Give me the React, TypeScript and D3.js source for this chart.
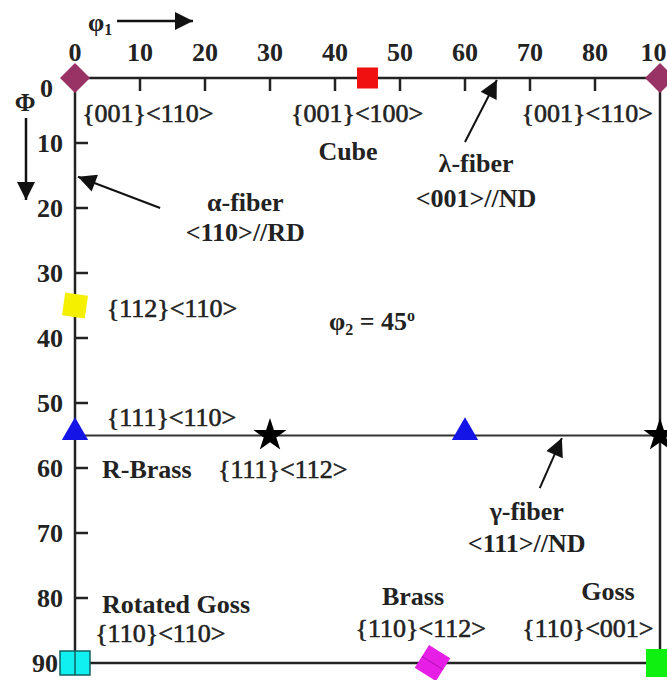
import { useEffect, useRef } from 'react'
import * as d3 from 'd3'

// Euler angle section, phi2 = 45 deg
const xTicks = [0, 10, 20, 30, 40, 50, 60, 70, 80, 90]
const xTickLabels = ['0', '10', '20', '30', '40', '50', '60', '70', '80', '100']
const yTicks = [0, 10, 20, 30, 40, 50, 60, 70, 80, 90]
const yTickLabels = ['0', '10', '20', '30', '40', '50', '60', '70', '80', '90']

// texture components: [phi1, Phi]
const compNames = ['Rot-Cube', 'Cube', 'Rot-Cube 2', '{112}<110>', 'R-Brass 1', '{111}<112> 1', 'R-Brass 2', '{111}<112> 2', 'Rotated Goss', 'Brass', 'Goss']
const compPhi1 = [0, 45, 90, 0, 0, 30, 60, 90, 0, 55, 90]
const compPhi = [0, 0, 0, 35, 55, 55, 55, 55, 90, 90, 90]
const compShape = ['diamond', 'square', 'diamond', 'square', 'triangle', 'star', 'triangle', 'star', 'wide', 'tilted', 'square']
const compColor = ['#993366', '#f01010', '#993366', '#f5f000', '#1414e6', '#000000', '#1414e6', '#000000', '#10f0f0', '#e61ee6', '#10f010']

// annotation text, placed in (phi1, Phi) units
const labelText = ['{001}<110>', '{001}<100>', 'Cube', '{001}<110>', 'λ-fiber', '<001>//ND', 'α-fiber', '<110>//RD',
  '{112}<110>', '{111}<110>', 'R-Brass', '{111}<112>', 'γ-fiber', '<111>//ND', 'Rotated Goss', '{110}<110>',
  'Brass', '{110}<112>', 'Goss', '{110}<001>']
const labelU = [1.1, 43.4, 42, 78.8, 61.7, 61.7, 26.2, 26.2, 4.9, 4.9, 4.15, 22, 69.5, 69.5, 4.15, 3.1, 52, 53.2, 82, 78.9]
const labelV = [6.8, 6.8, 12.6, 6.8, 14.5, 19.8, 20.5, 25.1, 36.8, 53.5, 61.5, 61.5, 68, 72.9, 82.3, 86.8, 81, 86, 80.3, 86]
const labelAnchor = ['start', 'middle', 'middle', 'middle', 'middle', 'middle', 'middle', 'middle', 'start', 'start', 'start', 'start',
  'middle', 'middle', 'start', 'start', 'middle', 'middle', 'middle', 'middle']
const labelBold = [false, false, true, false, true, true, true, true, false, false, true, false, true, true, true, false, true, false, true, false]

// fiber arrows: tail -> tip
const arrowFrom = [[13.1, 20], [60, 9.85], [71.5, 63.1]]
const arrowTo = [[0.46, 15.2], [64.9, 0.3], [74.9, 55.4]]

export default function App() {
  const ref = useRef<SVGSVGElement>(null)

  useEffect(() => {
    const svg = d3.select(ref.current)
    svg.selectAll('*').remove()

    const x = d3.scaleLinear().domain([0, 90]).range([75, 660])
    const y = d3.scaleLinear().domain([0, 90]).range([78, 663])
    const font = '"Liberation Serif", "Times New Roman", serif'
    const ink = '#222'

    svg.append('defs').append('marker')
      .attr('id', 'head')
      .attr('viewBox', '0 0 10 10')
      .attr('refX', 10).attr('refY', 5)
      .attr('markerWidth', 22).attr('markerHeight', 18)
      .attr('markerUnits', 'userSpaceOnUse')
      .attr('orient', 'auto')
      .append('path').attr('d', 'M0,0 L10,5 L0,10 z').attr('fill', '#111')

    const g = svg.append('g')

    // frame
    g.append('rect')
      .attr('x', x(0)).attr('y', y(0))
      .attr('width', x(90) - x(0)).attr('height', y(90) - y(0))
      .attr('fill', 'none').attr('stroke', ink).attr('stroke-width', 2.5)

    // gamma fiber line at Phi = 55
    g.append('line')
      .attr('x1', x(0)).attr('x2', x(90))
      .attr('y1', y(55)).attr('y2', y(55))
      .attr('stroke', '#333').attr('stroke-width', 2)

    // inner ticks
    g.selectAll('.xt').data(xTicks.slice(1, -1)).enter().append('line')
      .attr('x1', d => x(d)).attr('x2', d => x(d))
      .attr('y1', y(0)).attr('y2', y(0) + 13)
      .attr('stroke', ink).attr('stroke-width', 2.5)
    g.selectAll('.yt').data(yTicks.slice(1, -1)).enter().append('line')
      .attr('y1', d => y(d)).attr('y2', d => y(d))
      .attr('x1', x(0)).attr('x2', x(0) + 13)
      .attr('stroke', ink).attr('stroke-width', 2.5)

    // tick labels
    g.selectAll('.xl').data(xTicks).enter().append('text')
      .attr('x', d => x(d)).attr('y', 61)
      .attr('text-anchor', 'middle')
      .attr('font-family', font).attr('font-weight', 'bold').attr('font-size', 26)
      .attr('fill', ink)
      .text((d, i) => xTickLabels[i])
    g.selectAll('.yl').data(yTicks).enter().append('text')
      .attr('x', (d, i) => (i === 0 ? 53 : i === yTicks.length - 1 ? 58 : 63))
      .attr('y', (d, i) => y(d) + (i === 0 ? 19 : 9))
      .attr('text-anchor', 'end')
      .attr('font-family', font).attr('font-weight', 'bold').attr('font-size', 26)
      .attr('fill', ink)
      .text((d, i) => yTickLabels[i])

    // axis names with direction arrows
    const p1 = g.append('text').attr('x', 88).attr('y', 31)
      .attr('font-family', font).attr('font-weight', 'bold').attr('font-size', 26).attr('fill', ink)
    p1.append('tspan').text('φ')
    p1.append('tspan').attr('font-size', 16).attr('dy', 4).text('1')
    g.append('line').attr('x1', 117).attr('y1', 21).attr('x2', 193).attr('y2', 21)
      .attr('stroke', '#111').attr('stroke-width', 2.5).attr('marker-end', 'url(#head)')
    g.append('text').attr('x', 25).attr('y', 111).attr('text-anchor', 'middle')
      .attr('font-family', font).attr('font-weight', 'bold').attr('font-size', 25).attr('fill', ink)
      .text('Φ')
    g.append('line').attr('x1', 26).attr('y1', 118).attr('x2', 26).attr('y2', 200)
      .attr('stroke', '#111').attr('stroke-width', 2.5).attr('marker-end', 'url(#head)')

    // fiber arrows
    g.selectAll('.arr').data(arrowFrom).enter().append('line')
      .attr('x1', d => x(d[0])).attr('y1', d => y(d[1]))
      .attr('x2', (d, i) => x(arrowTo[i][0])).attr('y2', (d, i) => y(arrowTo[i][1]))
      .attr('stroke', '#111').attr('stroke-width', 2).attr('marker-end', 'url(#head)')

    // annotation labels (regular ones get a hairline stroke to match the heavier print)
    g.selectAll('.lab').data(labelText).enter().append('text')
      .attr('x', (d, i) => x(labelU[i])).attr('y', (d, i) => y(labelV[i]))
      .attr('text-anchor', (d, i) => labelAnchor[i])
      .attr('font-family', font).attr('font-size', 26)
      .attr('font-weight', (d, i) => (labelBold[i] ? 'bold' : 'normal'))
      .attr('fill', ink)
      .attr('stroke', (d, i) => (labelBold[i] ? null : ink))
      .attr('stroke-width', 0.6)
      .text(d => d)

    const p2 = g.append('text').attr('x', x(45.7)).attr('y', y(38.8)).attr('text-anchor', 'middle')
      .attr('font-family', font).attr('font-weight', 'bold').attr('font-size', 26).attr('fill', ink)
    p2.append('tspan').text('φ')
    p2.append('tspan').attr('font-size', 16).attr('dy', 5).text('2')
    p2.append('tspan').attr('dy', -5).text(' = 45')
    p2.append('tspan').attr('font-size', 16).attr('dy', -9).text('o')

    // component markers
    const star = d3.symbol().type(d3.symbolStar).size(340)
    const tri = d3.symbol().type(d3.symbolTriangle).size(300)
    compNames.forEach((name, i) => {
      const cx = x(compPhi1[i])
      const cy = y(compPhi[i])
      const fill = compColor[i]
      const m = g.append('g').attr('transform', `translate(${cx},${cy})`)
      const shape = compShape[i]
      if (shape === 'diamond') {
        m.append('path').attr('d', 'M0,-15 L15,0 L0,15 L-15,0 Z').attr('fill', fill)
      } else if (shape === 'square') {
        const s = name === 'Goss' ? 28 : name === 'Cube' ? 21 : 23
        m.append('rect').attr('x', -s / 2).attr('y', -s / 2).attr('width', s).attr('height', s)
          .attr('fill', fill).attr('transform', name === '{112}<110>' ? 'rotate(8)' : null)
      } else if (shape === 'triangle') {
        m.append('path').attr('d', tri()).attr('fill', fill).attr('transform', 'translate(0,-3)')
      } else if (shape === 'star') {
        m.append('path').attr('d', star()).attr('fill', fill)
      } else if (shape === 'wide') {
        m.append('rect').attr('x', -15).attr('y', -12).attr('width', 30).attr('height', 24)
          .attr('fill', fill).attr('stroke', '#136060').attr('stroke-width', 1.5)
        m.append('line').attr('x1', 0).attr('x2', 0).attr('y1', -12).attr('y2', 12)
          .attr('stroke', '#136060').attr('stroke-width', 1.5)
      } else if (shape === 'tilted') {
        const t = m.append('g').attr('transform', 'rotate(32)')
        t.append('rect').attr('x', -12.5).attr('y', -13.5).attr('width', 25).attr('height', 27)
          .attr('fill', fill)
        t.append('line').attr('x1', -12.5).attr('x2', 12.5).attr('y1', 0).attr('y2', 0)
          .attr('stroke', '#b010b0').attr('stroke-width', 1)
      }
    })
  }, [])

  return (
    <svg ref={ref} width={667} height={680}
      style={{ position: 'absolute', left: 0, top: 0, background: '#fff' }} />
  )
}
